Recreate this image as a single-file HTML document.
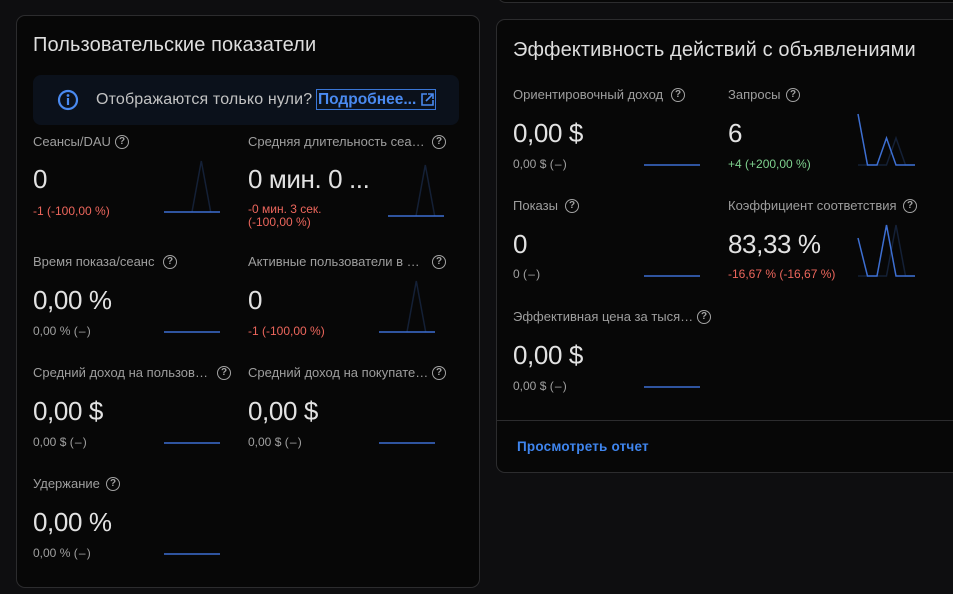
<!DOCTYPE html>
<html><head><meta charset="utf-8">
<style>
html,body{margin:0;padding:0;}
body{width:953px;height:594px;background:#0e0e10;position:relative;overflow:hidden;font-family:"Liberation Sans","DejaVu Sans",sans-serif;}
.card{position:absolute;background:#070707;border:1px solid #2c2c2e;border-radius:9px;box-sizing:border-box;}
.t{position:absolute;white-space:nowrap;}
.title{font-size:20px;line-height:24px;color:#dedede;letter-spacing:0.1px;}
.lbl{font-size:13px;line-height:16px;color:#9e9e9e;}
.val{font-size:26px;line-height:30px;color:#e2e2e2;letter-spacing:-0.4px;}
.sub{font-size:12px;line-height:14px;color:#a0a0a0;}
.sub .d{letter-spacing:1.2px;}
.red{color:#ec665c;}
.green{color:#7fd28f;}
.help{position:absolute;width:14px;height:14px;box-sizing:border-box;border:1.6px solid #a3a3a3;border-radius:50%;color:#a3a3a3;font-size:10px;font-weight:bold;line-height:11px;text-align:center;font-family:"Liberation Sans",sans-serif;}
</style></head><body>

<!-- top-right card remnant -->
<div class="card" style="left:497px;top:-30px;width:520px;height:33px;"></div>

<!-- left card -->
<div class="card" style="left:16px;top:15px;width:464px;height:573px;"></div>
<div class="t title" style="left:33px;top:33px;">Пользовательские показатели</div>

<div style="position:absolute;left:33px;top:75px;width:426px;height:50px;background:#0b111b;border-radius:8px;"></div>
<div class="t" style="left:96px;top:90px;font-size:16px;line-height:20px;color:#c2c2c2;letter-spacing:0.15px;">Отображаются только нули?</div>
<div style="position:absolute;left:316px;top:89px;width:120px;height:21px;box-sizing:border-box;border:1px solid #3a76d6;"></div>
<div class="t" style="left:318px;top:90px;font-size:15.5px;line-height:20px;color:#4a8af0;font-weight:bold;">Подробнее...</div>

<!-- right card -->
<div class="card" style="left:496px;top:19px;width:520px;height:454px;"></div>
<div style="position:absolute;left:497px;top:420px;width:460px;height:1px;background:#2c2c2e;"></div>
<div class="t title" style="left:513px;top:38px;">Эффективность действий с объявлениями</div>
<div class="t" style="left:517px;top:439px;font-size:13.5px;line-height:16px;color:#3f85ee;font-weight:bold;letter-spacing:0.2px;">Просмотреть отчет</div>

<!-- LEFT CARD METRICS -->
<!-- row 1 -->
<div class="t lbl" style="left:33px;top:134px;">Сеансы/DAU</div>
<div class="help" style="left:115px;top:135px;">?</div>
<div class="t val" style="left:33px;top:164px;">0</div>
<div class="t sub red" style="left:33px;top:204px;">-1 (-100,00 %)</div>

<div class="t lbl" style="left:248px;top:134px;">Средняя длительность сеа…</div>
<div class="help" style="left:432px;top:135px;">?</div>
<div class="t val" style="left:248px;top:164px;">0 мин. 0 ...</div>
<div class="t sub red" style="left:248px;top:202px;">-0 мин. 3 сек.</div>
<div class="t sub red" style="left:248px;top:215px;">(-100,00 %)</div>

<!-- row 2 -->
<div class="t lbl" style="left:33px;top:254px;">Время показа/сеанс</div>
<div class="help" style="left:163px;top:255px;">?</div>
<div class="t val" style="left:33px;top:285px;">0,00 %</div>
<div class="t sub" style="left:33px;top:324px;">0,00 % <span class="d">(–)</span></div>

<div class="t lbl" style="left:248px;top:254px;">Активные пользователи в …</div>
<div class="help" style="left:432px;top:255px;">?</div>
<div class="t val" style="left:248px;top:285px;">0</div>
<div class="t sub red" style="left:248px;top:324px;">-1 (-100,00 %)</div>

<!-- row 3 -->
<div class="t lbl" style="left:33px;top:365px;">Средний доход на пользов…</div>
<div class="help" style="left:217px;top:366px;">?</div>
<div class="t val" style="left:33px;top:396px;">0,00 $</div>
<div class="t sub" style="left:33px;top:435px;">0,00 $ <span class="d">(–)</span></div>

<div class="t lbl" style="left:248px;top:365px;">Средний доход на покупате…</div>
<div class="help" style="left:432px;top:366px;">?</div>
<div class="t val" style="left:248px;top:396px;">0,00 $</div>
<div class="t sub" style="left:248px;top:435px;">0,00 $ <span class="d">(–)</span></div>

<!-- row 4 -->
<div class="t lbl" style="left:33px;top:476px;">Удержание</div>
<div class="help" style="left:106px;top:477px;">?</div>
<div class="t val" style="left:33px;top:507px;">0,00 %</div>
<div class="t sub" style="left:33px;top:546px;">0,00 % <span class="d">(–)</span></div>

<!-- RIGHT CARD METRICS -->
<div class="t lbl" style="left:513px;top:87px;">Ориентировочный доход</div>
<div class="help" style="left:671px;top:88px;">?</div>
<div class="t val" style="left:513px;top:118px;">0,00 $</div>
<div class="t sub" style="left:513px;top:157px;">0,00 $ <span class="d">(–)</span></div>

<div class="t lbl" style="left:728px;top:87px;">Запросы</div>
<div class="help" style="left:786px;top:88px;">?</div>
<div class="t val" style="left:728px;top:118px;">6</div>
<div class="t sub green" style="left:728px;top:157px;">+4 (+200,00 %)</div>

<div class="t lbl" style="left:513px;top:198px;">Показы</div>
<div class="help" style="left:565px;top:199px;">?</div>
<div class="t val" style="left:513px;top:229px;">0</div>
<div class="t sub" style="left:513px;top:267px;">0 <span class="d">(–)</span></div>

<div class="t lbl" style="left:728px;top:198px;">Коэффициент соответствия</div>
<div class="help" style="left:903px;top:199px;">?</div>
<div class="t val" style="left:728px;top:229px;">83,33 %</div>
<div class="t sub red" style="left:728px;top:267px;">-16,67 % (-16,67 %)</div>

<div class="t lbl" style="left:513px;top:309px;">Эффективная цена за тыся…</div>
<div class="help" style="left:697px;top:310px;">?</div>
<div class="t val" style="left:513px;top:340px;">0,00 $</div>
<div class="t sub" style="left:513px;top:379px;">0,00 $ <span class="d">(–)</span></div>

<svg width="953" height="594" style="position:absolute;left:0;top:0;" xmlns="http://www.w3.org/2000/svg">
  <!-- info icon -->
  <circle cx="68" cy="100" r="9" fill="none" stroke="#4a8af0" stroke-width="2.2"/>
  <circle cx="68" cy="95.5" r="1.4" fill="#4a8af0"/>
  <rect x="66.9" y="98" width="2.2" height="7" fill="#4a8af0"/>
  <!-- external link icon -->
  <g fill="none" stroke="#4a8af0" stroke-width="1.6">
    <path d="M427 94 H422 V105 H433 V100"/>
    <path d="M428 94 H433 V99"/>
    <path d="M433 94 L426 101"/>
  </g>

  <g fill="none" stroke-width="1.5" stroke-linejoin="miter">
    <!-- left card sparklines: dark previous period peaks -->
    <polyline stroke="#142036" points="192,212 201.3,161 210.7,212"/>
    <polyline stroke="#142036" points="416,216 425.3,165 434.7,216"/>
    <polyline stroke="#142036" points="407,332 416.3,281 425.7,332"/>
    <!-- blue flat lines -->
    <line stroke="#3d6fd2" x1="164" y1="212" x2="220" y2="212"/>
    <line stroke="#3d6fd2" x1="388" y1="216" x2="444" y2="216"/>
    <line stroke="#3d6fd2" x1="164" y1="332" x2="220" y2="332"/>
    <line stroke="#3d6fd2" x1="379" y1="332" x2="435" y2="332"/>
    <line stroke="#3d6fd2" x1="164" y1="443" x2="220" y2="443"/>
    <line stroke="#3d6fd2" x1="379" y1="443" x2="435" y2="443"/>
    <line stroke="#3d6fd2" x1="164" y1="554" x2="220" y2="554"/>

    <!-- right card -->
    <line stroke="#3d6fd2" x1="644" y1="165" x2="700" y2="165"/>
    <line stroke="#3d6fd2" x1="644" y1="276" x2="700" y2="276"/>
    <line stroke="#3d6fd2" x1="644" y1="387" x2="700" y2="387"/>

    <polyline stroke="#142036" points="858,165 867.5,165 877,165 886.5,165 896,138 905.5,165 915,165"/>
    <polyline stroke="#3d6fd2" points="858,114 867.5,165 877,165 886.5,138 896,165 905.5,165 915,165"/>

    <polyline stroke="#142036" points="858,276 867.5,276 877,276 886.5,276 896,225 905.5,276 915,276"/>
    <polyline stroke="#3d6fd2" points="858,238 867.5,276 877,276 886.5,225 896,276 905.5,276 915,276"/>
  </g>
</svg>
</body></html>
